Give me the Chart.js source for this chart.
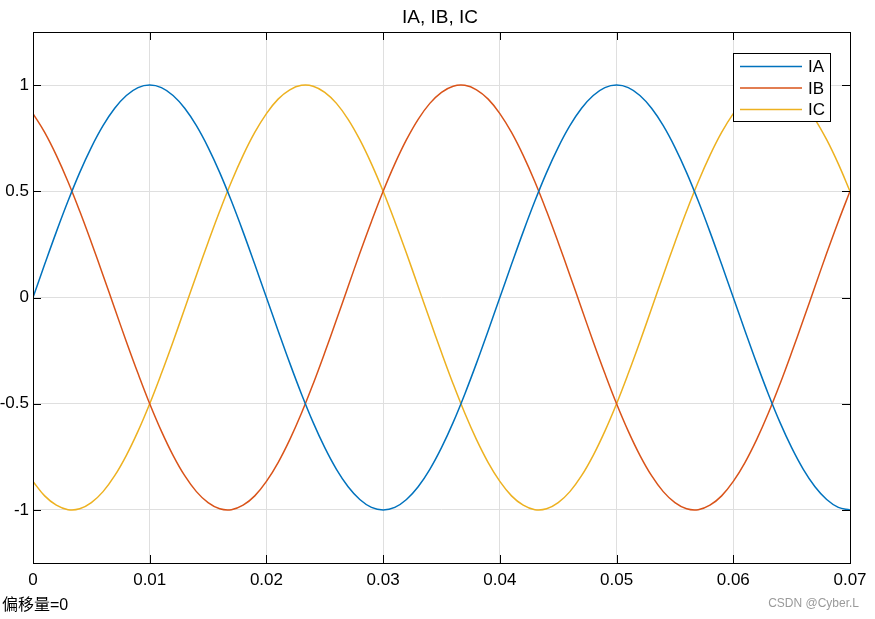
<!DOCTYPE html>
<html>
<head>
<meta charset="utf-8">
<script src="https://cdn.jsdelivr.net/npm/chart.js@4.4.1/dist/chart.umd.min.js"></script>
<style>
  html, body { margin: 0; padding: 0; background: #fff; }
  #wrap { width: 875px; height: 619px; }
</style>
</head>
<body>
<div id="wrap"><canvas id="myChart" width="875" height="619"></canvas></div>
<script>
"use strict";

// time axis (s), one sample per ms
const times = [0, 0.001, 0.002, 0.003, 0.004, 0.005, 0.006, 0.007, 0.008, 0.009,
    0.01, 0.011, 0.012, 0.013, 0.014, 0.015, 0.016, 0.017, 0.018, 0.019,
    0.02, 0.021, 0.022, 0.023, 0.024, 0.025, 0.026, 0.027, 0.028, 0.029,
    0.03, 0.031, 0.032, 0.033, 0.034, 0.035, 0.036, 0.037, 0.038, 0.039,
    0.04, 0.041, 0.042, 0.043, 0.044, 0.045, 0.046, 0.047, 0.048, 0.049,
    0.05, 0.051, 0.052, 0.053, 0.054, 0.055, 0.056, 0.057, 0.058, 0.059,
    0.06, 0.061, 0.062, 0.063, 0.064, 0.065, 0.066, 0.067, 0.068, 0.069, 0.07]

const iaValues = [0, 0.156, 0.309, 0.454, 0.588, 0.707, 0.809, 0.891, 0.951, 0.988,
    1, 0.988, 0.951, 0.891, 0.809, 0.707, 0.588, 0.454, 0.309, 0.156,
    0, -0.156, -0.309, -0.454, -0.588, -0.707, -0.809, -0.891, -0.951, -0.988,
    -1, -0.988, -0.951, -0.891, -0.809, -0.707, -0.588, -0.454, -0.309, -0.156,
    0, 0.156, 0.309, 0.454, 0.588, 0.707, 0.809, 0.891, 0.951, 0.988,
    1, 0.988, 0.951, 0.891, 0.809, 0.707, 0.588, 0.454, 0.309, 0.156,
    0, -0.156, -0.309, -0.454, -0.588, -0.707, -0.809, -0.891, -0.951, -0.988, -1]

const ibValues = [0.866, 0.777, 0.669, 0.545, 0.407, 0.259, 0.105, -0.052, -0.208, -0.358,
    -0.5, -0.629, -0.743, -0.839, -0.914, -0.966, -0.995, -0.999, -0.978, -0.934,
    -0.866, -0.777, -0.669, -0.545, -0.407, -0.259, -0.105, 0.052, 0.208, 0.358,
    0.5, 0.629, 0.743, 0.839, 0.914, 0.966, 0.995, 0.999, 0.978, 0.934,
    0.866, 0.777, 0.669, 0.545, 0.407, 0.259, 0.105, -0.052, -0.208, -0.358,
    -0.5, -0.629, -0.743, -0.839, -0.914, -0.966, -0.995, -0.999, -0.978, -0.934,
    -0.866, -0.777, -0.669, -0.545, -0.407, -0.259, -0.105, 0.052, 0.208, 0.358, 0.5]

const icValues = [-0.866, -0.934, -0.978, -0.999, -0.995, -0.966, -0.914, -0.839, -0.743, -0.629,
    -0.5, -0.358, -0.208, -0.052, 0.105, 0.259, 0.407, 0.545, 0.669, 0.777,
    0.866, 0.934, 0.978, 0.999, 0.995, 0.966, 0.914, 0.839, 0.743, 0.629,
    0.5, 0.358, 0.208, 0.052, -0.105, -0.259, -0.407, -0.545, -0.669, -0.777,
    -0.866, -0.934, -0.978, -0.999, -0.995, -0.966, -0.914, -0.839, -0.743, -0.629,
    -0.5, -0.358, -0.208, -0.052, 0.105, 0.259, 0.407, 0.545, 0.669, 0.777,
    0.866, 0.934, 0.978, 0.999, 0.995, 0.966, 0.914, 0.839, 0.743, 0.629, 0.5]

const seriesNames = ["IA", "IB", "IC"]
const xTicks = [0, 0.01, 0.02, 0.03, 0.04, 0.05, 0.06, 0.07]
const yTicks = [-1, -0.5, 0, 0.5, 1]

const chartTitle = "IA, IB, IC"
const footNote = "偏移量=0"
const watermark = "CSDN @Cyber.L"

const lineColors = ["#0072BD", "#D95319", "#EDB120"]
const FONT = "'Liberation Sans', Arial, Helvetica, sans-serif"

// frame, inward ticks, title, legend and notes, matlab style
const decorPlugin = {
    id: "decor",
    afterDraw(chart) {
        const ctx = chart.ctx
        const a = chart.chartArea
        const xs = chart.scales.x
        const ys = chart.scales.y
        const tl = 8

        ctx.save()
        ctx.strokeStyle = "#000"
        ctx.lineWidth = 1
        ctx.beginPath()
        xTicks.forEach(function (v) {
            const px = Math.round(xs.getPixelForValue(v)) + 0.5
            ctx.moveTo(px, a.bottom); ctx.lineTo(px, a.bottom - tl)
            ctx.moveTo(px, a.top); ctx.lineTo(px, a.top + tl)
        })
        yTicks.forEach(function (v) {
            const py = Math.round(ys.getPixelForValue(v)) + 0.5
            ctx.moveTo(a.left, py); ctx.lineTo(a.left + tl, py)
            ctx.moveTo(a.right, py); ctx.lineTo(a.right - tl, py)
        })
        ctx.stroke()
        ctx.strokeRect(Math.round(a.left) + 0.5, Math.round(a.top) + 0.5,
                       Math.round(a.right - a.left), Math.round(a.bottom - a.top))

        // title
        ctx.fillStyle = "#000"
        ctx.font = "19px " + FONT
        ctx.textAlign = "center"
        ctx.textBaseline = "middle"
        ctx.fillText(chartTitle, 440, 18)

        // legend box
        const lx = 733.5, ly = 53.5, lw = 97, lh = 68
        ctx.fillStyle = "#fff"
        ctx.fillRect(lx, ly, lw, lh)
        ctx.strokeStyle = "#000"
        ctx.strokeRect(lx, ly, lw, lh)
        ctx.font = "17px " + FONT
        ctx.textAlign = "left"
        chart.data.datasets.forEach(function (ds, i) {
            const yy = 66.5 + i * 21.5
            ctx.strokeStyle = ds.borderColor
            ctx.lineWidth = 1.5
            ctx.beginPath()
            ctx.moveTo(740, yy); ctx.lineTo(802, yy)
            ctx.stroke()
            ctx.fillStyle = "#000"
            ctx.fillText(ds.label, 808, yy + 1)
        })

        // notes under the axes
        ctx.font = "16px " + FONT + ", 'Noto Sans CJK SC'"
        ctx.fillStyle = "#000"
        ctx.fillText(footNote, 2, 606)
        ctx.font = "12px " + FONT
        ctx.fillStyle = "#9a9a9a"
        ctx.textAlign = "right"
        ctx.fillText(watermark, 859, 604)
        ctx.restore()
    }
}

function fmt(v) {
    return String(Number(v.toFixed(3)))
}

const ctx = document.getElementById("myChart").getContext("2d")
const allValues = [iaValues, ibValues, icValues]

new Chart(ctx, {
    type: "line",
    data: {
        labels: times,
        datasets: seriesNames.map(function (name, i) {
            return {
                label: name,
                data: allValues[i],
                borderColor: lineColors[i],
                backgroundColor: lineColors[i],
                borderWidth: 1.5,
                pointRadius: 0,
                tension: 0.4,
                fill: false
            }
        })
    },
    options: {
        responsive: false,
        animation: false,
        events: [],
        layout: { padding: { left: 0, right: 25, top: 32, bottom: 26 } },
        plugins: {
            legend: { display: false },
            title: { display: false },
            tooltip: { enabled: false }
        },
        scales: {
            x: {
                type: "linear",
                min: 0,
                max: 0.07,
                afterBuildTicks: function (axis) {
                    axis.ticks = xTicks.map(function (v) { return { value: v } })
                },
                afterFit: function (axis) { axis.height = 30 },
                grid: { color: "#dfdfdf", drawTicks: false },
                border: { display: false },
                ticks: {
                    padding: 7,
                    color: "#000",
                    maxRotation: 0,
                    font: { family: FONT, size: 17 },
                    callback: function (v) { return fmt(v) }
                }
            },
            y: {
                type: "linear",
                min: -1.25,
                max: 1.25,
                afterBuildTicks: function (axis) {
                    axis.ticks = yTicks.map(function (v) { return { value: v } })
                },
                afterFit: function (axis) { axis.width = 33 },
                grid: { color: "#dfdfdf", drawTicks: false },
                border: { display: false },
                ticks: {
                    padding: 4,
                    color: "#000",
                    font: { family: FONT, size: 17 },
                    callback: function (v) { return fmt(v) }
                }
            }
        }
    },
    plugins: [decorPlugin]
})
</script>
</body>
</html>
